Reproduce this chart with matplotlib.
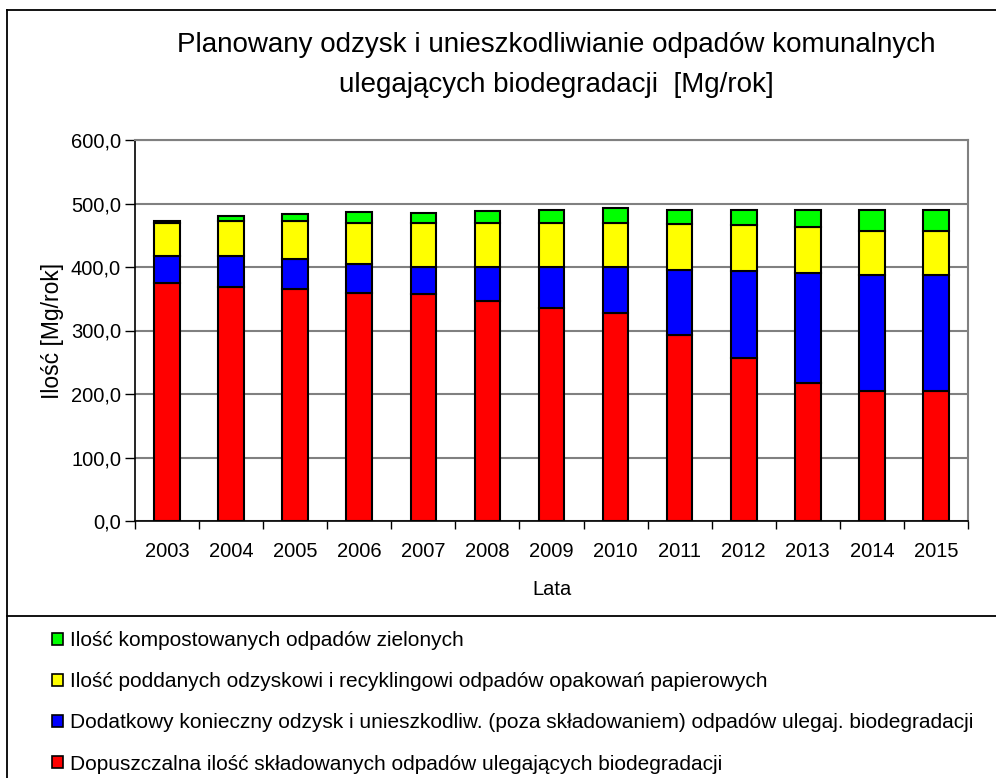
import matplotlib
matplotlib.use("Agg")
import matplotlib.pyplot as plt
from matplotlib.patches import Patch
from matplotlib.lines import Line2D
import numpy as np

plt.rcParams['font.family'] = ['Liberation Sans', 'DejaVu Sans']

years = ["2003", "2004", "2005", "2006", "2007", "2008", "2009",
         "2010", "2011", "2012", "2013", "2014", "2015"]
skladowane = [375, 369, 365, 359, 357, 347, 335, 328, 293, 257, 218, 205, 205]
dodatkowy = [43, 49, 47, 46, 43, 53, 65, 72, 102.5, 136, 173, 183, 183]
papier = [52, 54, 60, 65, 70, 70, 70, 70, 72.5, 73, 72, 68.5, 68.5]
zielone = [3, 8, 11, 16, 15.5, 17.5, 20, 23, 22, 24, 27, 33.5, 33.5]

labels = [
    "Dopuszczalna ilość składowanych odpadów ulegających biodegradacji",
    "Dodatkowy konieczny odzysk i unieszkodliw. (poza składowaniem) odpadów ulegaj. biodegradacji",
    "Ilość poddanych odzyskowi i recyklingowi odpadów opakowań papierowych",
    "Ilość kompostowanych odpadów zielonych",
]
colors = ["#FF0000", "#0000FF", "#FFFF00", "#00FF00"]
yticks = [0, 100, 200, 300, 400, 500, 600]

W, H = 996, 778
fig = plt.figure(figsize=(W / 100, H / 100), dpi=100)
fig.patch.set_facecolor("white")

ax = fig.add_axes([135 / W, 1 - 521 / H, (968 - 135) / W, (521 - 140) / H])

x = np.arange(len(years))
series = [skladowane, dodatkowy, papier, zielone]
bottom = np.zeros(len(years))
handles = []
for vals, col, lab in zip(series, colors, labels):
    ax.bar(x, vals, width=0.4, bottom=bottom, color=col, edgecolor="black",
           linewidth=1.5, zorder=3)
    bottom = bottom + np.array(vals)
    handles.append(Patch(facecolor=col, edgecolor="black", linewidth=1.2, label=lab))

ax.set_xlim(-0.5, len(years) - 0.5)
ax.set_ylim(0, 600)
ax.set_yticks(yticks)
ax.set_yticklabels([f"{v:.1f}".replace(".", ",") for v in yticks], fontsize=14.5)
ax.yaxis.grid(True, color="#808080", linewidth=1.5, zorder=0)
ax.set_axisbelow(True)

# category boundaries as major ticks, labels at centers via minor ticks
ax.set_xticks(np.arange(-0.5, len(years), 1.0))
ax.set_xticklabels([])
ax.set_xticks(x, minor=True)
ax.set_xticklabels(years, minor=True, fontsize=14.5)
ax.tick_params(axis="x", which="major", direction="out", length=6, width=1, color="black")
ax.tick_params(axis="x", which="minor", length=0, pad=15)
ax.tick_params(axis="y", direction="out", length=7, width=1, pad=3, color="black")

for s in ["top", "right"]:
    ax.spines[s].set_color("#808080")
    ax.spines[s].set_linewidth(1.5)
for s in ["left", "bottom"]:
    ax.spines[s].set_color("black")
    ax.spines[s].set_linewidth(1.2)

ax.set_xlabel("Lata", fontsize=14.5, labelpad=14)
ax.set_ylabel("Ilość [Mg/rok]", fontsize=16.5, labelpad=5)

fig.text(556 / W, 1 - 65 / H,
         "Planowany odzysk i unieszkodliwianie odpadów komunalnych\nulegających biodegradacji  [Mg/rok]",
         ha="center", va="center", fontsize=20, linespacing=1.72)

# outer border and separator
fig.add_artist(Line2D([7 / W, 7 / W], [0, 1 - 10 / H], color="black", lw=1.3, transform=fig.transFigure))
fig.add_artist(Line2D([7 / W, 1], [1 - 10 / H, 1 - 10 / H], color="black", lw=1.3, transform=fig.transFigure))
fig.add_artist(Line2D([7 / W, 1], [1 - 616 / H, 1 - 616 / H], color="black", lw=1.3, transform=fig.transFigure))

fig.legend(handles=handles[::-1], loc="upper left",
           bbox_to_anchor=(44 / W, 1 - 623 / H), frameon=False,
           fontsize=15, handlelength=0.5, handleheight=0.5,
           handletextpad=0.35, labelspacing=1.06, borderaxespad=0)

fig.savefig("out.png", dpi=100, facecolor="white")
